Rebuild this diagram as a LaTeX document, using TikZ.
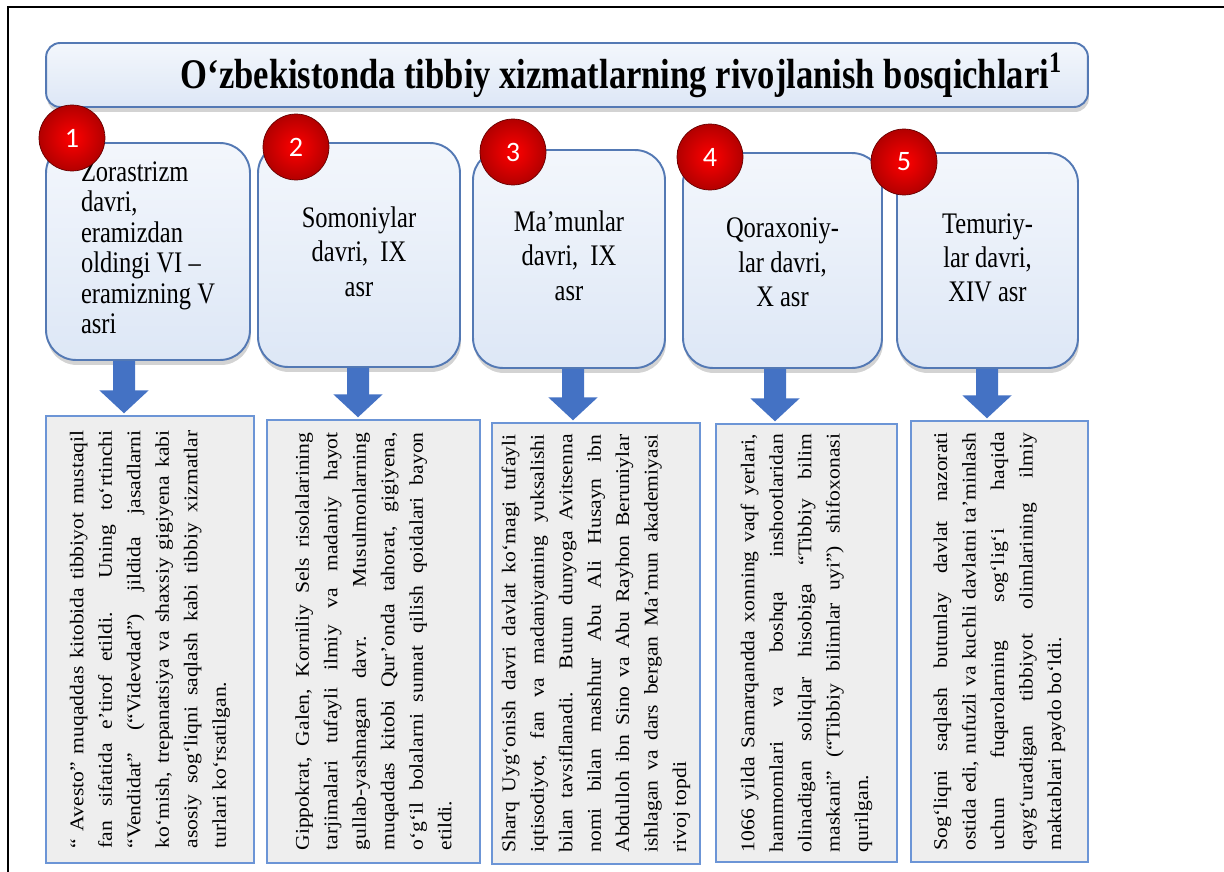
\documentclass[tikz,border=0pt]{standalone}
\usepackage{graphicx}
\usepackage{fontspec}
\setmainfont{Liberation Serif}
\newfontfamily\numfont{Carlito}
\usetikzlibrary{arrows.meta,shadows}

\definecolor{boxblue}{HTML}{5479B4}
\definecolor{boxfill}{HTML}{DDE7F6}
\definecolor{arrowblue}{HTML}{4472C4}
\definecolor{descline}{HTML}{6C95D6}
\definecolor{descfill}{HTML}{EEEEEE}

\newcommand{\squeeze}[2][c]{\scalebox{0.82}[1]{\begin{tabular}{@{}#1@{}}#2\end{tabular}}}
\newcommand{\sidetext}[1]{\rotatebox{90}{\scalebox{1}[0.9]{\parbox{238pt}{%
  \fontsize{12.3}{18}\selectfont\tolerance=10000\hyphenpenalty=10000\exhyphenpenalty=10000 #1}}}}

\tikzset{
  period/.style={rounded corners=0.6cm, draw=boxblue, line width=1.1pt,
    top color=boxfill!35!white, bottom color=boxfill,
    drop shadow={shadow xshift=0.02cm, shadow yshift=-0.1cm, opacity=0.35},
    font=\fontsize{17}{19.5}\selectfont, inner sep=0pt},
  headbox/.style={period, rounded corners=0.28cm},
  desc/.style={draw=descline, fill=descfill, line width=0.8pt, inner sep=0pt},
  badge/.style={circle, minimum size=1.32cm, shading=radial, inner color=red,
    outer color=red!70!black, draw=red!40!black, thin, text=white,
    font=\numfont\fontsize{16}{16}\selectfont},
  downarrow/.style={draw=arrowblue, line width=0.44cm,
    -{Triangle[width=0.96cm, length=0.46cm, color=arrowblue]}, shorten >=0.04cm}
}

\begin{document}
\begin{tikzpicture}[x=0.02cm, y=-0.02cm]
\useasboundingbox (0,0) rectangle (1224,872);
\draw[line width=1.2pt] (8,872) -- (8,7) -- (1224,7);

\node[headbox, minimum width=20.84cm, minimum height=1.28cm] (title) at (567,75)
  {\makebox[19.8cm][r]{\scalebox{0.82}[1]{\bfseries\fontsize{24}{28}\selectfont
   O‘zbekistonda tibbiy xizmatlarning rivojlanish bosqichlari\textsuperscript{1}}}};

\node[period, minimum width=4.08cm, minimum height=4.34cm, font=\fontsize{17}{17.3}\selectfont] (p1) at (148,251.5)
  {\squeeze[l]{Zorastrizm\\davri,\\eramizdan\\oldingi VI –\\eramizning V\\asri}\hspace{0.25cm}};
\node[period, minimum width=4.04cm, minimum height=4.48cm] (p2) at (359,255)
  {\squeeze{Somoniylar\\davri,~~IX\\asr}};
\node[period, minimum width=3.84cm, minimum height=4.36cm] (p3) at (569,259)
  {\squeeze{Ma’munlar\\davri,~~IX\\asr}};
\node[period, minimum width=3.98cm, minimum height=4.30cm] (p4) at (782.5,260.5)
  {\squeeze{\\[-14pt]Qoraxoniy-\\lar davri,\\X asr}};
\node[period, minimum width=3.62cm, minimum height=4.30cm] (p5) at (987.5,260.5)
  {\squeeze{Temuriy-\\lar davri,\\XIV asr}};

\node[badge] (n1) at (72,138) {1};
\node[badge] (n2) at (296,147) {2};
\node[badge] (n3) at (513,152) {3};
\node[badge] (n4) at (710,157) {4};
\node[badge] (n5) at (904,162) {5};

\node[desc, minimum width=4.16cm, minimum height=8.94cm] (d1) at (150,639.5)
  {\sidetext{“ Avesto” muqaddas kitobida tibbiyot mustaqil\linebreak
   fan sifatida e’tirof etildi. Uning to‘rtinchi\linebreak
   “Vendidat” (“Videvdad”) jildida jasadlarni\linebreak
   ko‘mish, trepanatsiya va shaxsiy gigiyena kabi\linebreak
   asosiy sog‘liqni saqlash kabi tibbiy xizmatlar\linebreak
   turlari ko‘rsatilgan.}};
\node[desc, minimum width=4.26cm, minimum height=8.86cm] (d2) at (373.5,641.5)
  {\sidetext{Gippokrat, Galen, Korniliy Sels risolalarining\linebreak
   tarjimalari tufayli ilmiy va madaniy hayot\linebreak
   gullab-yashnagan davr. Musulmonlarning\linebreak
   muqaddas kitobi Qur’onda tahorat, gigiyena,\linebreak
   o‘g‘il bolalarni sunnat qilish qoidalari bayon\linebreak
   etildi.}};
\node[desc, minimum width=4.16cm, minimum height=8.82cm] (d3) at (596,643.5)
  {\sidetext{Sharq Uyg‘onish davri davlat ko‘magi tufayli\linebreak
   iqtisodiyot, fan va madaniyatning yuksalishi\linebreak
   bilan tavsiflanadi. Butun dunyoga Avitsenna\linebreak
   nomi bilan mashhur Abu Ali Husayn ibn\linebreak
   Abdulloh ibn Sino va Abu Rayhon Beruniylar\linebreak
   ishlagan va dars bergan Ma’mun akademiyasi\linebreak
   rivoj topdi}};
\node[desc, minimum width=3.62cm, minimum height=8.76cm] (d4) at (806.5,643)
  {\sidetext{1066 yilda Samarqandda xonning vaqf yerlari,\linebreak
   hammomlari va boshqa inshootlaridan\linebreak
   olinadigan soliqlar hisobiga “Tibbiy bilim\linebreak
   maskani” (“Tibbiy bilimlar uyi”) shifoxonasi\linebreak
   qurilgan.}};
\node[desc, minimum width=3.54cm, minimum height=8.82cm] (d5) at (999.5,641.5)
  {\sidetext{Sog‘liqni saqlash butunlay davlat nazorati\linebreak
   ostida edi, nufuzli va kuchli davlatni ta’minlash\linebreak
   uchun fuqarolarning sog‘lig‘i haqida\linebreak
   qayg‘uradigan tibbiyot olimlarining ilmiy\linebreak
   maktablari paydo bo‘ldi.}};

\draw[downarrow] ([xshift=-0.48cm]p1.south) -- ([xshift=-0.52cm]d1.north);
\draw[downarrow] ([xshift=-0.02cm]p2.south) -- ([xshift=-0.31cm]d2.north);
\draw[downarrow] ([xshift=0.08cm]p3.south) -- ([xshift=-0.46cm]d3.north);
\draw[downarrow] ([xshift=-0.15cm]p4.south) -- ([xshift=-0.63cm]d4.north);
\draw[downarrow] ([xshift=-0.01cm]p5.south) -- ([xshift=-0.25cm]d5.north);

\end{tikzpicture}
\end{document}
